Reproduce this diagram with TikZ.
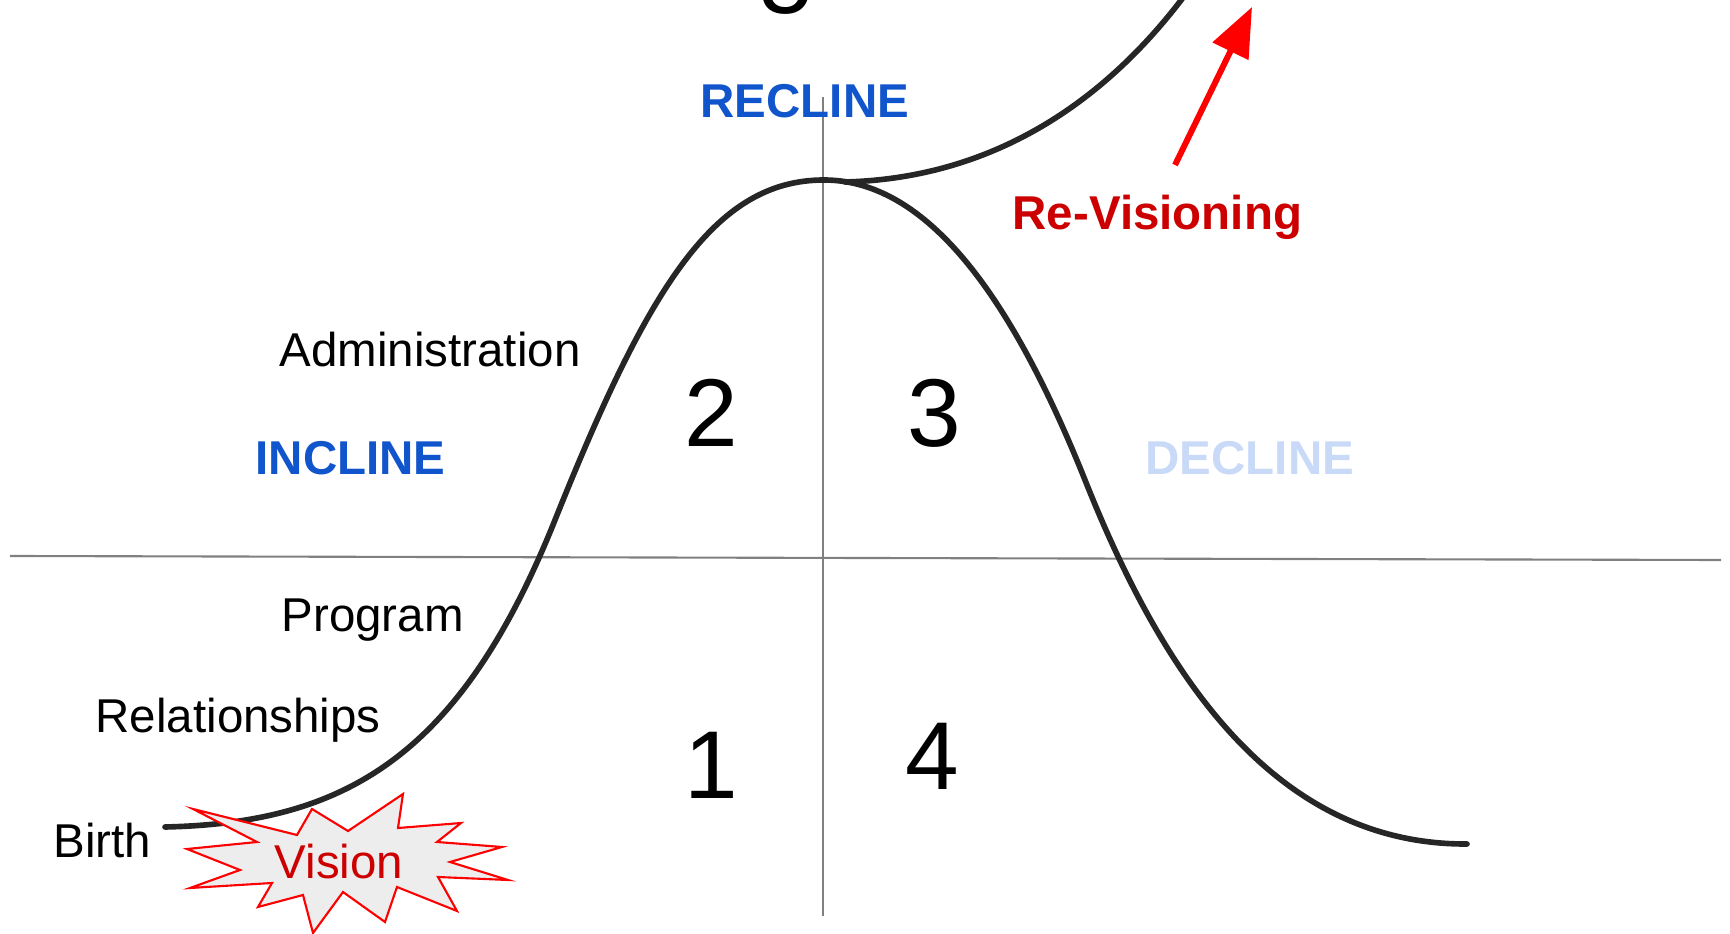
\documentclass[tikz,border=0pt]{standalone}
\usepackage{fontspec}
\setmainfont{Liberation Sans}
\usetikzlibrary{arrows.meta}
\definecolor{phaseblue}{HTML}{1155CC}
\definecolor{paleblue}{HTML}{C9DAF8}
\definecolor{visred}{HTML}{CC0000}
\definecolor{curvegray}{HTML}{262626}
\begin{document}
\begin{tikzpicture}[x=0.01cm,y=-0.01cm,
  lbl/.style={font=\fontsize{13.5}{16}\selectfont, inner sep=0, anchor=base west},
  phase/.style={lbl, font=\fontsize{13.5}{16}\selectfont\bfseries},
  num/.style={font=\fontsize{27.4}{30}\selectfont, inner sep=0, anchor=base},
  axis/.style={draw=gray, line width=0.6pt},
  life/.style={draw=curvegray, line width=1.6pt, line cap=round}]
\clip (0,0) rectangle (1730,934);
\fill[white] (0,0) rectangle (1730,934);

% axes
\draw[axis] (10,556) -- (1721,560);
\draw[axis] (823,97) -- (823,916);

% life cycle curve
\draw[life] (165,827) .. controls (345,823) and (460,757) .. (555,520)
  .. controls (648,288) and (714,180) .. (824,180)
  .. controls (934,180) and (1018,313) .. (1085,480)
  .. controls (1159,666) and (1270,845) .. (1467,844);
\draw[life] (845,182) .. controls (1000,178) and (1110,95) .. (1185,-5);

% vision burst
\filldraw[draw=red, fill=gray!14, line width=0.6pt] (193,809) -- (297,835) -- (312,809) -- (348,831)
  -- (403,794) -- (398,828) -- (461,823) -- (437,842) -- (502,847) -- (450,862) -- (508,880)
  -- (438,877) -- (457,911) -- (397,887) -- (385,922) -- (343,892) -- (313,933) -- (303,895)
  -- (258,907) -- (272,883) -- (190,888) -- (240,870) -- (187,849) -- (257,842) -- cycle;
\node[lbl, anchor=base, text=visred] (vision) at (339,878) {Vision};

% stage labels
\node[lbl] (admin) at (279,367) {Administration};
\node[lbl] (program) at (281,632) {Program};
\node[lbl] (relations) at (95,733) {Relationships};
\node[lbl] (birth) at (53,857) {Birth};

\node[phase, text=phaseblue] (incline) at (255,475) {INCLINE};
\node[phase, text=phaseblue] (recline) at (700,118) {RECLINE};
\node[phase, text=paleblue] (decline) at (1145,475) {DECLINE};
\node[phase, text=visred] (revision) at (1012,230) {Re-Visioning};

% quadrant numbers
\node[num] (q1) at (711,799) {1};
\node[num] (q2) at (711,447) {2};
\node[num] (q3) at (934,447) {3};
\node[num] (q4) at (932,790) {4};
\node[num] (q5) at (786,14) {5};

\coordinate (revtail) at (1175,165);
\coordinate (revtip) at (1252,7);
\draw[red, line width=1.7pt, -{Triangle[length=14pt, width=11pt]}] (revtail) -- (revtip);
\end{tikzpicture}
\end{document}
